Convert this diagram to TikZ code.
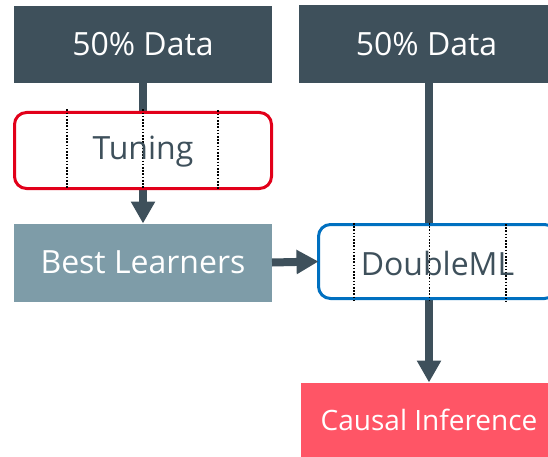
\documentclass[tikz,border=0pt]{standalone}
\usepackage{fontspec}
\setmainfont{Open Sans}
\usetikzlibrary{arrows.meta}
\definecolor{darkslate}{HTML}{3E505B}
\definecolor{bestcol}{HTML}{7E9CA8}
\definecolor{tunred}{HTML}{E2001A}
\definecolor{dmlblue}{HTML}{0070C0}
\definecolor{causalcol}{HTML}{FF5566}
\tikzset{
  databox/.style={fill=darkslate, text=white, inner sep=0pt, outer sep=0pt, font=\fontsize{32}{38}\selectfont},
  roundbox/.style={fill=white, line width=3pt, rounded corners=12pt, inner sep=0pt, outer sep=0pt, text=darkslate},
  flowarrow/.style={draw=darkslate, line width=8pt, -{Triangle[width=23pt,length=22pt]}},
  dotline/.style={draw=black, line width=1.6pt, dash pattern=on 1.6pt off 1.6pt}
}
\begin{document}
\begin{tikzpicture}[x=1pt,y=-1pt]
\clip (0,0) rectangle (548,457);
\fill[white] (0,0) rectangle (548,457);
% boxes
\node[databox, minimum width=258pt, minimum height=77pt] (d1) at (143,44.5) {50\% Data};
\node[databox, minimum width=255pt, minimum height=78pt] (d2) at (426.5,44) {50\% Data};
\node[databox, fill=bestcol, minimum width=258pt, minimum height=78pt] (best) at (143,262.5) {Best Learners};
\node[databox, fill=causalcol, minimum width=256pt, minimum height=75pt, font=\fontsize{28}{34}\selectfont] (causal) at (429,420) {Causal Inference};
% vertical connectors behind the rounded boxes
\draw[flowarrow] (d1.south) -- (best.north);
\draw[flowarrow] (d2.south -| causal.north) -- (causal.north);
% rounded boxes
\node[roundbox, draw=tunred, minimum width=257pt, minimum height=76pt] (tun) at (143,150.5) {};
\node[roundbox, draw=dmlblue, minimum width=238pt, minimum height=74pt] (dml) at (437.5,261.5) {};
% dotted separators
\draw[dotline] (67,109.5) -- (67,189);
\draw[dotline] (143,109.5) -- (143,189);
\draw[dotline] (218,110.5) -- (218,189);
\draw[dotline] (354,223) -- (354,300);
\draw[dotline] (429.5,223) -- (429.5,300);
\draw[dotline] (506,224) -- (506,301);
% labels
\node[text=darkslate, font=\fontsize{32}{38}\selectfont, inner sep=0pt] (tunlabel) at (143,152) {Tuning};
\node[text=darkslate, font=\fontsize{32}{38}\selectfont, inner sep=0pt] (dmllabel) at (437.5,263) {DoubleML};
% horizontal connector
\draw[flowarrow] (best.east) -- (dml.west);
\end{tikzpicture}
\end{document}
